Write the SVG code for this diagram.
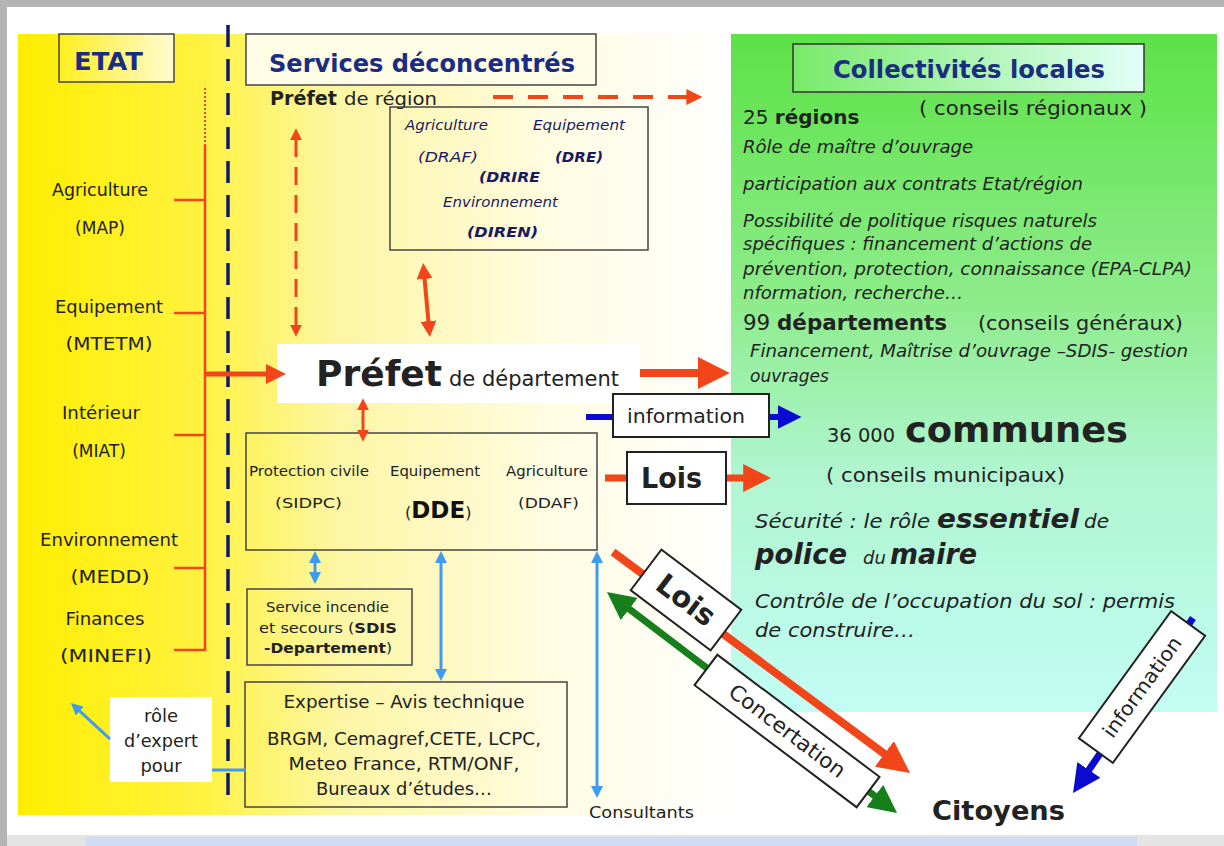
<svg xmlns="http://www.w3.org/2000/svg" width="1224" height="846" viewBox="0 0 1224 846">
<defs>
  <linearGradient id="gYellow" x1="0" y1="0" x2="1" y2="0">
    <stop offset="0" stop-color="#ffee00"/>
    <stop offset="0.25" stop-color="#fff23e"/>
    <stop offset="0.45" stop-color="#fdf6a4"/>
    <stop offset="0.75" stop-color="#fffce2"/>
    <stop offset="1" stop-color="#ffffff"/>
  </linearGradient>
  <linearGradient id="gGreen" x1="0" y1="0" x2="0" y2="1">
    <stop offset="0" stop-color="#5ce246"/>
    <stop offset="0.4" stop-color="#8eec8c"/>
    <stop offset="0.65" stop-color="#b0f5d0"/>
    <stop offset="1" stop-color="#c2fdf4"/>
  </linearGradient>
  <linearGradient id="gColl" x1="0" y1="0" x2="1" y2="0">
    <stop offset="0" stop-color="#78ea6a"/>
    <stop offset="1" stop-color="#e2fff8"/>
  </linearGradient>
  <linearGradient id="gEtat" x1="0" y1="0" x2="1" y2="0">
    <stop offset="0" stop-color="#ffef1e"/>
    <stop offset="1" stop-color="#fffbd2"/>
  </linearGradient>
  <marker id="mO" viewBox="0 0 10 10" refX="1" refY="5" markerWidth="4" markerHeight="4" orient="auto-start-reverse" markerUnits="strokeWidth"><path d="M0,0 L10,5 L0,10 z" fill="#f2461a"/></marker>
  <marker id="mG" viewBox="0 0 10 10" refX="1" refY="5" markerWidth="4" markerHeight="4" orient="auto-start-reverse" markerUnits="strokeWidth"><path d="M0,0 L10,5 L0,10 z" fill="#17801c"/></marker>
  <marker id="mB" viewBox="0 0 10 10" refX="1" refY="5" markerWidth="4" markerHeight="4" orient="auto-start-reverse" markerUnits="strokeWidth"><path d="M0,0 L10,5 L0,10 z" fill="#0a0ad0"/></marker>
  <marker id="mL" viewBox="0 0 10 10" refX="1" refY="5" markerWidth="4" markerHeight="4" orient="auto-start-reverse" markerUnits="strokeWidth"><path d="M0,0 L10,5 L0,10 z" fill="#3d9cf2"/></marker>
</defs>
<style>
  text { font-family: "DejaVu Sans", "Liberation Sans", sans-serif; fill: #222; }
  .lbl { font-size: 17px; text-anchor: middle; }
  .title { font-size: 24px; font-weight: bold; fill: #1b2d80; }
  .box { fill: none; stroke: #444; stroke-width: 1.5; }
  .wbox { fill: #ffffff; stroke: #222; stroke-width: 2; }
  .reg { font-size: 14px; font-style: italic; fill: #1a1a5e; }
  .regb { font-size: 14px; font-style: italic; font-weight: bold; fill: #1a1a5e; }
  .it { font-size: 17px; font-style: italic; fill: #222; }
  .sm { font-size: 14.5px; }
  .ex { font-size: 17px; text-anchor: middle; }
  .orange { stroke: #f2461a; fill: none; }
  .lblue { stroke: #3d9cf2; fill: none; stroke-width: 3; }
  .dblue { stroke: #0a0ad0; fill: none; }
  .green { stroke: #17801c; fill: none; }
</style>

<!-- background -->
<rect x="0" y="0" width="1224" height="846" fill="#b4b4b4"/>
<rect x="7" y="7" width="1217" height="828" fill="#ffffff"/>
<rect x="7" y="835" width="1217" height="11" fill="#e4e4e4"/>
<rect x="86" y="837" width="1051" height="9" fill="#cddcf3"/>

<!-- panels -->
<rect x="18" y="34" width="713" height="781" fill="url(#gYellow)"/>
<rect x="731" y="34" width="486" height="678" fill="url(#gGreen)"/>

<!-- ETAT column -->
<g id="etat">
  <rect x="59" y="34" width="115" height="48" fill="url(#gEtat)" stroke="#444" stroke-width="1.5"/>
  <text class="title" x="74" y="70" textLength="69" lengthAdjust="spacingAndGlyphs">ETAT</text>
</g>
<g id="ministeres">
  <text class="lbl" x="100" y="196" textLength="96" lengthAdjust="spacingAndGlyphs">Agriculture</text>
  <text class="lbl" x="100" y="234">(MAP)</text>
  <text class="lbl" x="109" y="313" textLength="108" lengthAdjust="spacingAndGlyphs">Equipement</text>
  <text class="lbl" x="109" y="350" textLength="87" lengthAdjust="spacingAndGlyphs">(MTETM)</text>
  <text class="lbl" x="101" y="419" textLength="78" lengthAdjust="spacingAndGlyphs">Intérieur</text>
  <text class="lbl" x="99" y="457">(MIAT)</text>
  <text class="lbl" x="109" y="546" textLength="138" lengthAdjust="spacingAndGlyphs">Environnement</text>
  <text class="lbl" x="110" y="583" textLength="79" lengthAdjust="spacingAndGlyphs">(MEDD)</text>
  <text class="lbl" x="105" y="625" textLength="79" lengthAdjust="spacingAndGlyphs">Finances</text>
  <text class="lbl" x="106" y="662" textLength="92" lengthAdjust="spacingAndGlyphs">(MINEFI)</text>
</g>

<!-- Services déconcentrés -->
<g id="services">
  <rect x="246" y="34" width="350" height="51" fill="#fffde6" stroke="#444" stroke-width="1.5"/>
  <text class="title" x="269" y="72" textLength="306" lengthAdjust="spacingAndGlyphs">Services déconcentrés</text>
</g>
<g id="prefet-region">
  <text x="270" y="105" font-size="20" font-weight="bold" fill="#111" textLength="67" lengthAdjust="spacingAndGlyphs">Préfet</text>
  <text x="344" y="105" font-size="18" fill="#222" textLength="93" lengthAdjust="spacingAndGlyphs">de région</text>
</g>
<g id="directions-regionales">
  <rect class="box" x="390" y="107" width="258" height="143"/>
  <text class="reg" x="405" y="130" textLength="83" lengthAdjust="spacingAndGlyphs">Agriculture</text>
  <text class="reg" x="533" y="130" textLength="92" lengthAdjust="spacingAndGlyphs">Equipement</text>
  <text class="reg" x="418" y="162" textLength="60" lengthAdjust="spacingAndGlyphs">(DRAF)</text>
  <text class="regb" x="555" y="162" textLength="48" lengthAdjust="spacingAndGlyphs">(DRE)</text>
  <text class="regb" x="479" y="182" textLength="61" lengthAdjust="spacingAndGlyphs">(DRIRE</text>
  <text class="reg" x="443" y="207" textLength="115" lengthAdjust="spacingAndGlyphs">Environnement</text>
  <text class="regb" x="467" y="237" textLength="71" lengthAdjust="spacingAndGlyphs">(DIREN)</text>
</g>
<g id="prefet-departement">
  <rect x="277" y="344" width="363" height="59" fill="#ffffff"/>
  <text x="316" y="386" font-size="36" font-weight="bold" fill="#111" textLength="126" lengthAdjust="spacingAndGlyphs">Préfet</text>
  <text x="449" y="386" font-size="21" fill="#222" textLength="170" lengthAdjust="spacingAndGlyphs">de département</text>
</g>
<g id="services-departementaux">
  <rect class="box" x="246" y="433" width="351" height="117"/>
  <text class="sm" x="249" y="476" textLength="120" lengthAdjust="spacingAndGlyphs">Protection civile</text>
  <text class="sm" x="390" y="476" textLength="90" lengthAdjust="spacingAndGlyphs">Equipement</text>
  <text class="sm" x="506" y="476" textLength="82" lengthAdjust="spacingAndGlyphs">Agriculture</text>
  <text class="sm" x="275" y="508" textLength="67" lengthAdjust="spacingAndGlyphs">(SIDPC)</text>
  <text x="405" y="518" font-size="16">(<tspan font-size="23" font-weight="bold" fill="#111">DDE</tspan>)</text>
  <text class="sm" x="518" y="508" textLength="61" lengthAdjust="spacingAndGlyphs">(DDAF)</text>
</g>
<g id="sdis">
  <rect class="box" x="247" y="589" width="165" height="76"/>
  <text x="266" y="612" font-size="13.5" textLength="123" lengthAdjust="spacingAndGlyphs">Service incendie</text>
  <text x="259" y="633" font-size="13.5" textLength="138" lengthAdjust="spacingAndGlyphs">et  secours (<tspan font-weight="bold">SDIS</tspan></text>
  <text x="264" y="653" font-size="13.5" font-weight="bold" textLength="128" lengthAdjust="spacingAndGlyphs">-Departement<tspan font-weight="normal">)</tspan></text>
</g>
<g id="expertise">
  <rect class="box" x="245" y="682" width="322" height="125"/>
  <text class="ex" x="404" y="708" textLength="241" lengthAdjust="spacingAndGlyphs">Expertise – Avis technique</text>
  <text class="ex" x="404" y="745" textLength="274" lengthAdjust="spacingAndGlyphs">BRGM, Cemagref,CETE, LCPC,</text>
  <text class="ex" x="404" y="770" textLength="231" lengthAdjust="spacingAndGlyphs">Meteo France, RTM/ONF,</text>
  <text class="ex" x="404" y="795" textLength="176" lengthAdjust="spacingAndGlyphs">Bureaux d’études…</text>
</g>
<g id="role-expert">
  <rect x="110" y="697" width="102" height="85" fill="#ffffff"/>
  <text x="161" y="722" font-size="18" text-anchor="middle">rôle</text>
  <text x="161" y="747" font-size="18" text-anchor="middle" textLength="74" lengthAdjust="spacingAndGlyphs">d’expert</text>
  <text x="161" y="772" font-size="18" text-anchor="middle">pour</text>
</g>
<g id="consultants">
  <text x="589" y="818" font-size="16" textLength="105" lengthAdjust="spacingAndGlyphs">Consultants</text>
</g>

<!-- Collectivités locales -->
<g id="collectivites">
  <rect x="793" y="44" width="351" height="48" fill="url(#gColl)" stroke="#333" stroke-width="1.5"/>
  <text class="title" x="833" y="78" textLength="272" lengthAdjust="spacingAndGlyphs">Collectivités locales</text>
</g>
<g id="regions">
  <text x="743" y="124" font-size="20" fill="#111">25 <tspan font-weight="bold">régions</tspan></text>
  <text x="919" y="115" font-size="20" textLength="228" lengthAdjust="spacingAndGlyphs">( conseils régionaux )</text>
  <text class="it" x="743" y="153" textLength="230" lengthAdjust="spacingAndGlyphs">Rôle de maître d’ouvrage</text>
  <text class="it" x="743" y="190" textLength="340" lengthAdjust="spacingAndGlyphs">participation aux contrats Etat/région</text>
  <text class="it" x="743" y="227" textLength="354" lengthAdjust="spacingAndGlyphs">Possibilité de politique risques naturels</text>
  <text class="it" x="743" y="250" textLength="349" lengthAdjust="spacingAndGlyphs">spécifiques : financement d’actions de</text>
  <text class="it" x="743" y="275" textLength="449" lengthAdjust="spacingAndGlyphs">prévention, protection, connaissance (EPA-CLPA)</text>
  <text class="it" x="743" y="299" textLength="220" lengthAdjust="spacingAndGlyphs">nformation, recherche…</text>
</g>
<g id="departements">
  <text x="743" y="330" font-size="21" fill="#111" textLength="204" lengthAdjust="spacingAndGlyphs">99 <tspan font-weight="bold">départements</tspan></text>
  <text x="978" y="330" font-size="20" textLength="205" lengthAdjust="spacingAndGlyphs">(conseils généraux)</text>
  <text class="it" x="750" y="357" textLength="438" lengthAdjust="spacingAndGlyphs">Financement, Maîtrise d’ouvrage –SDIS- gestion</text>
  <text class="it" x="750" y="382">ouvrages</text>
</g>
<g id="communes">
  <text x="827" y="442" font-size="19" fill="#111" textLength="68" lengthAdjust="spacingAndGlyphs">36 000</text>
  <text x="905" y="442" font-size="36" font-weight="bold" fill="#111" textLength="223" lengthAdjust="spacingAndGlyphs">communes</text>
  <text x="826" y="482" font-size="19" textLength="239" lengthAdjust="spacingAndGlyphs">( conseils municipaux)</text>
  <text x="755" y="528" font-size="20" font-style="italic" fill="#111" textLength="175" lengthAdjust="spacingAndGlyphs">Sécurité : le rôle</text>
  <text x="937" y="528" font-size="27" font-style="italic" font-weight="bold" fill="#111" textLength="142" lengthAdjust="spacingAndGlyphs">essentiel</text>
  <text x="1084" y="528" font-size="20" font-style="italic" fill="#111">de</text>
  <text x="755" y="564" font-size="28" font-style="italic" font-weight="bold" fill="#111" textLength="92" lengthAdjust="spacingAndGlyphs">police</text>
  <text x="863" y="564" font-size="18" font-style="italic" fill="#111">du</text>
  <text x="890" y="564" font-size="28" font-style="italic" font-weight="bold" fill="#111" textLength="87" lengthAdjust="spacingAndGlyphs">maire</text>
  <text x="755" y="608" font-size="20" font-style="italic" fill="#111" textLength="420" lengthAdjust="spacingAndGlyphs">Contrôle de l’occupation du sol : permis</text>
  <text x="755" y="637" font-size="20" font-style="italic" fill="#111" textLength="160" lengthAdjust="spacingAndGlyphs">de construire…</text>
</g>
<g id="citoyens">
  <text x="932" y="820" font-size="27" font-weight="bold" fill="#111" textLength="133" lengthAdjust="spacingAndGlyphs">Citoyens</text>
</g>

<!-- connectors -->
<g id="connectors">
  <!-- navy dashed separator -->
  <line x1="228" y1="25" x2="228" y2="795" stroke="#0d1a66" stroke-width="3.5" stroke-dasharray="22 12"/>
  <!-- orange bracket -->
  <line class="orange" x1="205" y1="88" x2="205" y2="145" stroke-width="2" stroke-dasharray="2 2"/>
  <line class="orange" x1="205" y1="145" x2="205" y2="651" stroke-width="2.5"/>
  <line class="orange" x1="174" y1="200" x2="205" y2="200" stroke-width="2.5"/>
  <line class="orange" x1="174" y1="313" x2="205" y2="313" stroke-width="2.5"/>
  <line class="orange" x1="174" y1="435" x2="205" y2="435" stroke-width="2.5"/>
  <line class="orange" x1="174" y1="568" x2="205" y2="568" stroke-width="2.5"/>
  <line class="orange" x1="174" y1="650" x2="205" y2="650" stroke-width="2.5"/>
  <line class="orange" x1="205" y1="374" x2="268" y2="374" stroke-width="5" marker-end="url(#mO)"/>
  <!-- préfet de région links -->
  <line class="orange" x1="493" y1="97" x2="688" y2="97" stroke-width="4" stroke-dasharray="20 15" marker-end="url(#mO)"/>
  <line class="orange" x1="296" y1="139" x2="296" y2="326" stroke-width="3" stroke-dasharray="18 10" marker-start="url(#mO)" marker-end="url(#mO)"/>
  <line class="orange" x1="424.4" y1="277.3" x2="428.6" y2="322.7" stroke-width="4" marker-start="url(#mO)" marker-end="url(#mO)"/>
  <line class="orange" x1="363" y1="409" x2="363" y2="431" stroke-width="3" marker-start="url(#mO)" marker-end="url(#mO)"/>
  <!-- préfet de département to collectivités -->
  <line class="orange" x1="640" y1="373" x2="701" y2="373" stroke-width="8" marker-end="url(#mO)"/>
  <!-- information -->
  <line class="dblue" x1="586" y1="417" x2="613" y2="417" stroke-width="6"/>
  <line class="dblue" x1="769" y1="417" x2="780" y2="417" stroke-width="6" marker-end="url(#mB)"/>
  <!-- lois -->
  <line class="orange" x1="605" y1="478" x2="627" y2="478" stroke-width="7"/>
  <line class="orange" x1="726" y1="478" x2="746" y2="478" stroke-width="7" marker-end="url(#mO)"/>
  <!-- light blue links -->
  <line class="lblue" x1="315" y1="561.8" x2="315" y2="573.2" marker-start="url(#mL)" marker-end="url(#mL)"/>
  <line class="lblue" x1="441" y1="561.8" x2="441" y2="670.2" marker-start="url(#mL)" marker-end="url(#mL)"/>
  <line class="lblue" x1="597" y1="561.8" x2="597" y2="787.2" marker-start="url(#mL)" marker-end="url(#mL)"/>
  <line class="lblue" x1="212" y1="770" x2="246" y2="770"/>
  <line class="lblue" x1="110" y1="739" x2="78.9" y2="710.3" marker-end="url(#mL)"/>
  <!-- diagonals -->
  <line class="orange" x1="613" y1="552" x2="886.9" y2="755.8" stroke-width="8" marker-end="url(#mO)"/>
  <line class="green" x1="627" y1="607.3" x2="877" y2="797.7" stroke-width="7" marker-start="url(#mG)" marker-end="url(#mG)"/>
  <line class="dblue" x1="1193" y1="618" x2="1087.3" y2="772.2" stroke-width="7" marker-end="url(#mB)"/>
</g>

<!-- connector labels -->
<g id="label-information">
  <rect class="wbox" x="613" y="394" width="156" height="43"/>
  <text x="627" y="423" font-size="20" fill="#111" textLength="118" lengthAdjust="spacingAndGlyphs">information</text>
</g>
<g id="label-lois">
  <rect class="wbox" x="627" y="452" width="99" height="52"/>
  <text x="641" y="488" font-size="28" font-weight="bold" fill="#111" textLength="61" lengthAdjust="spacingAndGlyphs">Lois</text>
</g>
<g id="label-lois-diag" transform="translate(686,600) rotate(37)">
  <rect class="wbox" x="-50" y="-25.5" width="100" height="51"/>
  <text x="0" y="10" font-size="29" font-weight="bold" fill="#111" text-anchor="middle">Lois</text>
</g>
<g id="label-concertation" transform="translate(787,731) rotate(37)">
  <rect class="wbox" x="-101.5" y="-19" width="203" height="38"/>
  <text x="0" y="7" font-size="21" fill="#444" text-anchor="middle" textLength="140" lengthAdjust="spacingAndGlyphs">Concertation</text>
</g>
<g id="label-information-diag" transform="translate(1142,687) rotate(-54)">
  <rect class="wbox" x="-78.5" y="-21" width="157" height="42"/>
  <text x="0" y="7" font-size="20" fill="#333" text-anchor="middle" textLength="119" lengthAdjust="spacingAndGlyphs">information</text>
</g>
</svg>
